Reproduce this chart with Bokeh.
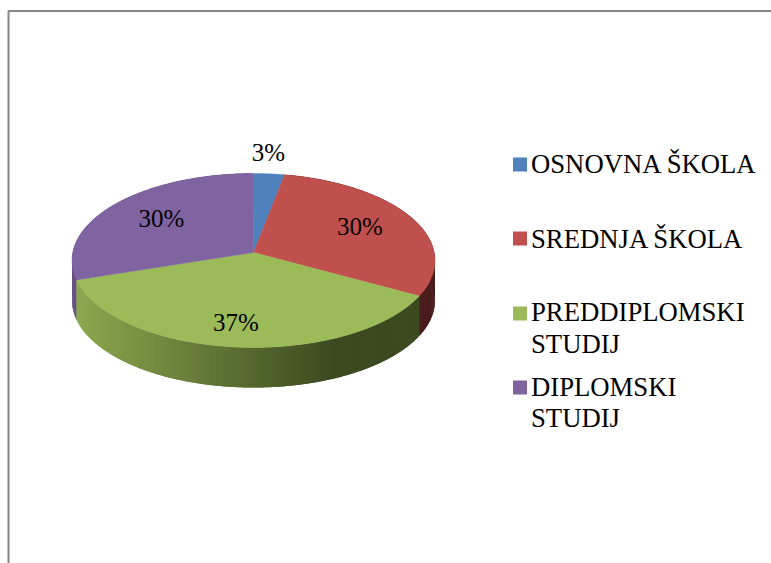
import numpy as np
from bokeh.plotting import figure
from bokeh.models import Range1d
from bokeh.core.properties import value
from bokeh.embed import file_html
from bokeh.resources import INLINE

categories = ["OSNOVNA ŠKOLA", "SREDNJA ŠKOLA", "PREDDIPLOMSKI STUDIJ", "DIPLOMSKI STUDIJ"]
values = [3, 30, 37, 30]
colors = ["#4f81bd", "#c0504d", "#9bbb59", "#8064a2"]
wall_colors = ["#3a5a80", "#4a1d1c", None, "#67507f"]
pct_labels = ["3%", "30%", "37%", "30%"]
pct_x = [268, 359.5, 235.5, 161]
pct_y = [152, 226, 322, 218]
swatch_y = [164, 238, 313, 387]
legend_lines = [["OSNOVNA ŠKOLA"], ["SREDNJA ŠKOLA"], ["PREDDIPLOMSKI", "STUDIJ"], ["DIPLOMSKI", "STUDIJ"]]
legend_mid = [[163], [238], [311.5, 343.5], [386.5, 417.5]]

FONT = value("Liberation Serif")
CX, CY, A, B, C, DEPTH = 253.0, 252.0, 180.7, 86.3, 0.0919, 40.0


def rim(deg):
    t = np.radians(deg)
    u, v = np.sin(t), np.cos(t)
    d = 1 + C * v
    return CX + A * u / d, CY - B * v / d


def green_wall(x):
    f = np.clip((x - 78) / (333 - 78), 0, 1)
    a, b = np.array([0x8b, 0xa8, 0x4f]), np.array([0x3c, 0x4a, 0x20])
    c = a + (b - a) * f
    return "#%02x%02x%02x" % tuple(int(round(k)) for k in c)


p = figure(width=771, height=563, output_backend="svg", toolbar_location=None,
           x_range=Range1d(0, 771), y_range=Range1d(563, 0), min_border=0)
p.axis.visible = False
p.grid.visible = False
p.outline_line_color = None
p.background_fill_color = "#ffffff"

# picture frame
p.line([8, 8, 771], [563, 10.5, 10.5], line_color="#868686", line_width=2)

edges = np.concatenate([[0], np.cumsum(values)]) * 360.0 / sum(values)

# side wall, painted back to front with overlap so no seams show
for i in [1, 3, 2]:
    lo, hi = edges[i], edges[i + 1]
    steps = np.arange(lo, hi, 1.0)
    order = steps if i == 3 else steps[::-1]
    for a0 in order:
        a1 = min(a0 + 2.0, hi) if i != 3 else a0
        a0b = a0 if i != 3 else max(a0 - 1.0, lo)
        a1b = a1 if i != 3 else min(a0 + 1.0, hi)
        t = np.linspace(a0b, a1b, 4)
        xs, ys = rim(t)
        col = wall_colors[i] or green_wall(float(xs.mean()))
        p.patch(np.r_[xs, xs[::-1]], np.r_[ys, ys[::-1] + DEPTH],
                fill_color=col, line_color=None)

# top face
for i in range(4):
    t = np.linspace(edges[i], edges[i + 1], 90)
    xs, ys = rim(t)
    p.patch(np.r_[CX, xs], np.r_[CY, ys], fill_color=colors[i], line_color=colors[i], line_width=0.4)

# percentage labels
p.text(pct_x, pct_y, text=pct_labels, text_font=FONT, text_font_size="25px",
       text_color="#000000", text_align="center", text_baseline="middle")

# legend
p.scatter([519.5] * 4, swatch_y, marker="square", size=14, fill_color=colors, line_color=None)
for lines, mids in zip(legend_lines, legend_mid):
    p.text([530.5] * len(lines), mids, text=lines, text_font=FONT, text_font_size="26.7px",
           text_color="#000000", text_align="left", text_baseline="middle")

open("out.html", "w").write(file_html(p, INLINE))
